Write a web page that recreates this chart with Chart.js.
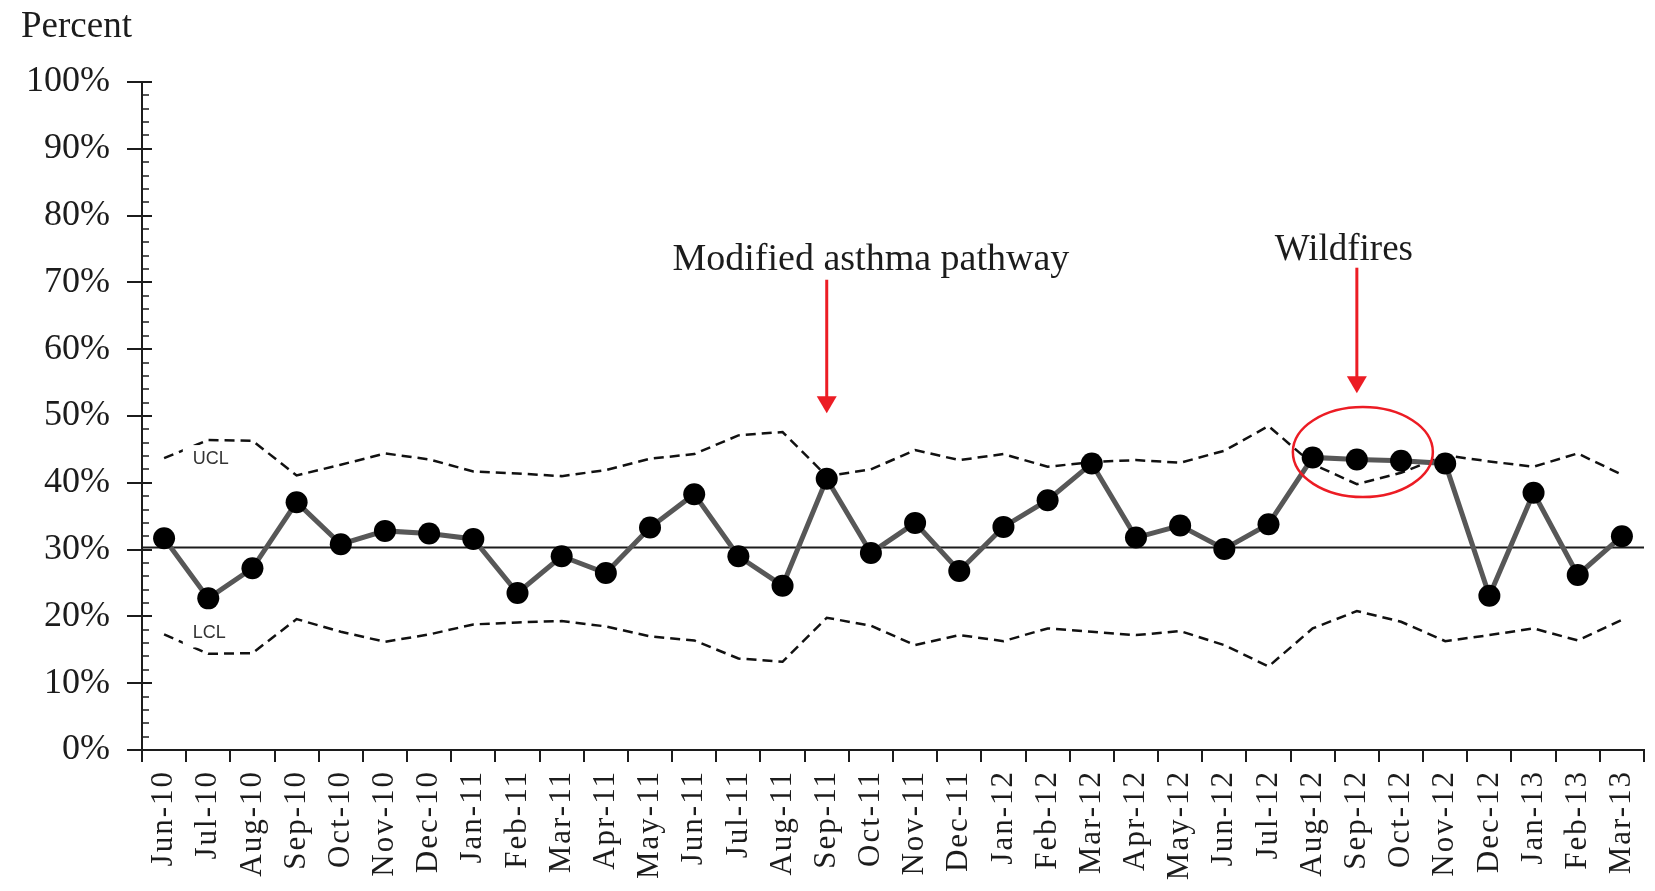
<!DOCTYPE html>
<html>
<head>
<meta charset="utf-8">
<title>Asthma pathway control chart</title>
<script src="https://cdn.jsdelivr.net/npm/chart.js@4.4.1/dist/chart.umd.min.js"></script>
<style>
  html, body { margin: 0; padding: 0; background: #ffffff; }
  canvas { display: block; }
</style>
</head>
<body>
<canvas id="chart" width="1655" height="891"></canvas>
<script>
// Monthly categories
const months = ['Jun-10','Jul-10','Aug-10','Sep-10','Oct-10','Nov-10','Dec-10','Jan-11','Feb-11','Mar-11',
  'Apr-11','May-11','Jun-11','Jul-11','Aug-11','Sep-11','Oct-11','Nov-11','Dec-11','Jan-12','Feb-12','Mar-12',
  'Apr-12','May-12','Jun-12','Jul-12','Aug-12','Sep-12','Oct-12','Nov-12','Dec-12','Jan-13','Feb-13','Mar-13'];

// Observed percentage per month
const percentValues = [31.7, 22.7, 27.2, 37.1, 30.8, 32.8, 32.4, 31.6, 23.5, 29.0,
  26.5, 33.3, 38.3, 29.0, 24.6, 40.6, 29.5, 34.0, 26.8, 33.4, 37.4, 42.9,
  31.8, 33.6, 30.1, 33.8, 43.8, 43.5, 43.3, 42.9, 23.1, 38.5, 26.2, 32.0];

// Upper and lower control limits
const upperLimit = [43.7, 46.4, 46.3, 41.1, 42.7, 44.4, 43.5, 41.7, 41.4, 41.0,
  41.9, 43.6, 44.3, 47.1, 47.6, 41.0, 42.0, 44.9, 43.4, 44.3, 42.4, 43.1,
  43.4, 43.0, 44.8, 48.5, 42.8, 39.8, 41.5, 44.1, 43.2, 42.4, 44.4, 41.2];
const lowerLimit = [17.3, 14.4, 14.5, 19.6, 17.7, 16.2, 17.3, 18.8, 19.1, 19.3,
  18.5, 17.0, 16.4, 13.7, 13.2, 19.8, 18.6, 15.7, 17.2, 16.3, 18.2, 17.7,
  17.2, 17.8, 15.7, 12.5, 18.2, 20.8, 19.2, 16.3, 17.2, 18.2, 16.4, 19.5];

// Centre line (mean)
const centreLine = 30.3;

// Y axis tick values
const yTicks = [0, 10, 20, 30, 40, 50, 60, 70, 80, 90, 100];

const SERIF = '"Liberation Serif", "Times New Roman", serif';
const SANS = '"Liberation Sans", Arial, sans-serif';
const INK = '#1c1c1c';
const RED = '#ec1c24';

function drawArrow(ctx, x, yTop, yTip) {
  const headLen = 17, headHalf = 10;
  ctx.save();
  ctx.strokeStyle = RED;
  ctx.fillStyle = RED;
  ctx.lineWidth = 3;
  ctx.beginPath();
  ctx.moveTo(x, yTop);
  ctx.lineTo(x, yTip - headLen + 1);
  ctx.stroke();
  ctx.beginPath();
  ctx.moveTo(x - headHalf, yTip - headLen);
  ctx.lineTo(x + headHalf, yTip - headLen);
  ctx.lineTo(x, yTip);
  ctx.closePath();
  ctx.fill();
  ctx.restore();
}

function limitLabel(ctx, text, x, y) {
  ctx.save();
  ctx.font = '18px ' + SANS;
  const w = ctx.measureText(text).width;
  ctx.fillStyle = '#ffffff';
  ctx.fillRect(x - 10, y - 14, w + 14, 28);
  ctx.fillStyle = '#333333';
  ctx.textAlign = 'left';
  ctx.textBaseline = 'middle';
  ctx.fillText(text, x, y);
  ctx.restore();
}

const decorations = {
  id: 'decorations',
  beforeDraw(chart) {
    const ctx = chart.ctx;
    ctx.save();
    ctx.fillStyle = '#ffffff';
    ctx.fillRect(0, 0, chart.width, chart.height);
    ctx.restore();
  },
  beforeDatasetsDraw(chart) {
    const { ctx, chartArea, scales: { y } } = chart;
    const yc = y.getPixelForValue(centreLine);
    ctx.save();
    ctx.strokeStyle = INK;
    ctx.lineWidth = 2;
    ctx.beginPath();
    ctx.moveTo(chartArea.left, yc);
    ctx.lineTo(chartArea.right, yc);
    ctx.stroke();
    ctx.restore();
  },
  afterDatasetsDraw(chart) {
    const { ctx, scales: { x, y } } = chart;
    const step = x.getPixelForValue(1) - x.getPixelForValue(0);
    const lx = x.getPixelForValue(0) + step * 0.65;
    limitLabel(ctx, 'UCL', lx, y.getPixelForValue(upperLimit[0]) + 1);
    limitLabel(ctx, 'LCL', lx, y.getPixelForValue(lowerLimit[0]) - 1);
    // the month labels (drawn next, in a higher layer) are typeset with open tracking
    ctx.letterSpacing = '2px';
  },
  afterDraw(chart) {
    const { ctx, chartArea, scales: { x, y } } = chart;
    ctx.letterSpacing = '0px';

    // y axis tick marks: majors cross the axis, minors sit inside
    ctx.save();
    ctx.strokeStyle = INK;
    for (let v = 0; v <= 100; v += 2) {
      const py = Math.round(y.getPixelForValue(v));
      ctx.beginPath();
      if (v % 10 === 0) {
        ctx.lineWidth = 2;
        ctx.moveTo(chartArea.left - 15, py);
        ctx.lineTo(chartArea.left + 10, py);
      } else {
        ctx.lineWidth = 1.5;
        ctx.moveTo(chartArea.left, py);
        ctx.lineTo(chartArea.left + 7, py);
      }
      ctx.stroke();
    }
    ctx.restore();

    // axis caption
    ctx.save();
    ctx.fillStyle = INK;
    ctx.font = '37px ' + SERIF;
    ctx.textAlign = 'left';
    ctx.textBaseline = 'alphabetic';
    ctx.fillText('Percent', 21, 37);
    ctx.restore();

    // event annotations
    const xSep11 = x.getPixelForValue(15);
    drawArrow(ctx, xSep11, y.getPixelForValue(70.4), y.getPixelForValue(50.4));
    const xSep12 = x.getPixelForValue(27);
    drawArrow(ctx, xSep12, y.getPixelForValue(72.2), y.getPixelForValue(53.4));

    ctx.save();
    ctx.fillStyle = INK;
    ctx.font = '38px ' + SERIF;
    ctx.textAlign = 'center';
    ctx.textBaseline = 'alphabetic';
    ctx.fillText('Modified asthma pathway', x.getPixelForValue(16), y.getPixelForValue(71.9));
    ctx.font = '37px ' + SERIF;
    ctx.fillText('Wildfires', xSep12 - 13, y.getPixelForValue(73.4));
    ctx.restore();

    ctx.save();
    ctx.strokeStyle = RED;
    ctx.lineWidth = 2.5;
    ctx.beginPath();
    ctx.ellipse(xSep12 + 6, y.getPixelForValue(44.6), 70, 45, 0, 0, Math.PI * 2);
    ctx.stroke();
    ctx.restore();
  }
};

new Chart(document.getElementById('chart'), {
  type: 'line',
  data: {
    labels: months,
    datasets: [
      {
        label: 'Percent',
        data: percentValues,
        borderColor: '#575757',
        borderWidth: 5,
        pointRadius: 11,
        pointBackgroundColor: '#000000',
        pointBorderColor: '#000000',
        pointBorderWidth: 0,
        tension: 0
      },
      {
        label: 'UCL',
        data: upperLimit,
        borderColor: '#111111',
        borderWidth: 2.5,
        borderDash: [10, 6],
        pointRadius: 0,
        tension: 0
      },
      {
        label: 'LCL',
        data: lowerLimit,
        borderColor: '#111111',
        borderWidth: 2.5,
        borderDash: [10, 6],
        pointRadius: 0,
        tension: 0
      }
    ]
  },
  options: {
    responsive: false,
    animation: false,
    devicePixelRatio: 1,
    layout: { padding: { top: 82, right: 7, left: 0, bottom: 0 } },
    plugins: {
      legend: { display: false },
      tooltip: { enabled: false },
      title: { display: false }
    },
    scales: {
      x: {
        type: 'category',
        offset: true,
        grid: {
          display: true,
          offset: true,
          drawOnChartArea: false,
          drawTicks: true,
          tickLength: 12,
          color: INK,
          lineWidth: 2
        },
        border: { display: true, color: INK, width: 2 },
        ticks: {
          autoSkip: false,
          minRotation: 90,
          maxRotation: 90,
          padding: 8,
          z: 1,
          color: INK,
          font: { family: SERIF, size: 31 }
        },
        afterFit(scale) {
          scale.height = 141;
          scale.paddingLeft = 0;
          scale.paddingRight = 0;
        }
      },
      y: {
        min: 0,
        max: 100,
        afterBuildTicks(scale) { scale.ticks = yTicks.map(v => ({ value: v })); },
        grid: { display: true, drawOnChartArea: false, drawTicks: false },
        border: { display: true, color: INK, width: 2 },
        ticks: {
          padding: 32,
          color: INK,
          font: { family: SERIF, size: 36 },
          callback: v => v + '%'
        },
        afterFit(scale) { scale.width = 142; }
      }
    }
  },
  plugins: [decorations]
});
</script>
</body>
</html>
